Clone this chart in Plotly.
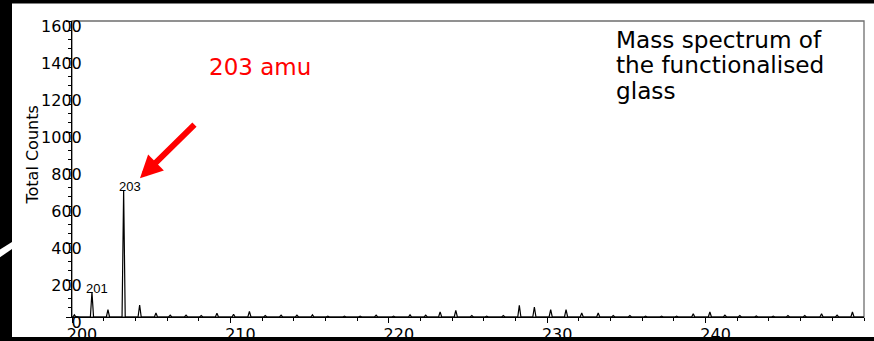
import plotly.graph_objects as go

# ---------------- data ----------------
peak_mz = [200.15, 201.26, 202.27, 203.26, 204.27, 205.30, 206.20, 207.20, 208.16, 209.15,
           210.20, 211.20, 212.20, 213.20, 214.20, 215.18, 216.15, 217.20, 218.19, 219.20,
           220.30, 221.34, 222.33, 223.24, 224.23, 225.24, 226.18, 227.23, 228.24, 229.19,
           230.22, 231.19, 232.18, 233.22, 234.17, 235.22, 236.21, 237.22, 238.17, 239.22,
           240.27, 241.22, 242.16, 243.20, 244.27, 245.20, 246.26, 247.32, 248.30, 249.27]
peak_counts = [12, 135, 40, 685, 65, 22, 10, 10, 8, 20,
               15, 30, 8, 10, 10, 12, 5, 5, 5, 10,
               5, 12, 10, 28, 36, 8, 5, 8, 63, 54,
               40, 40, 22, 22, 8, 8, 5, 5, 5, 18,
               27, 10, 8, 6, 5, 8, 8, 18, 10, 27]

label_mz = [201.26, 203.26]
label_counts = [135, 685]
label_text = ["201", "203"]

x_ticks = [200, 210, 220, 230, 240]
x_tick_labels = ["200", "210", "220", "230", "240"]
y_ticks = [0, 200, 400, 600, 800, 1000, 1200, 1400, 1600]
y_tick_labels = ["0", "200", "400", "600", "800", "1000", "1200", "1400", "1600"]

arrow_mz, arrow_counts = 204.29, 750
annotation_text = "203 amu"
title_lines = ["Mass spectrum of", "the functionalised", "glass"]
y_title = "Total Counts"

# ---------------- figure geometry ----------------
W, H = 874, 341
ML, MR, MT, MB = 72, 10, 21, 24
PW, PH = W - ML - MR, H - MT - MB


def px_x(x):
    return (x - ML) / PW


def px_y(y):
    return 1 - (y - MT) / PH


HALF_WIDTH = 0.1
xs, ys = [200.0], [0.0]
for c, h in zip(peak_mz, peak_counts):
    xs += [c - HALF_WIDTH, c, c + HALF_WIDTH]
    ys += [0, h, 0]
xs.append(250.0)
ys.append(0.0)

fig = go.Figure()
fig.add_trace(go.Scatter(x=xs, y=ys, mode="lines",
                         line=dict(color="black", width=1.2),
                         hoverinfo="skip", cliponaxis=False))

BIG = dict(family="DejaVu Sans", color="black")

fig.update_layout(
    width=W, height=H,
    margin=dict(l=ML, r=MR, t=MT, b=MB, pad=0),
    paper_bgcolor="white", plot_bgcolor="white",
    showlegend=False,
)
fig.update_xaxes(
    range=[200, 250], tickmode="array", tickvals=x_ticks, ticktext=x_tick_labels,
    ticks="outside", ticklen=5, tickwidth=1, tickcolor="black",
    showline=True, linecolor="black", linewidth=1,
    showgrid=False, zeroline=False, automargin=False,
    tickfont=dict(size=16, **BIG),
    ticklabelshift=10, ticklabelstandoff=-2,
    minor=dict(dtick=2, tick0=0, ticks="outside", ticklen=3, tickcolor="black", showgrid=False),
)
fig.update_yaxes(
    range=[0, 1600], tickmode="array", tickvals=y_ticks, ticktext=y_tick_labels,
    ticks="outside", ticklen=5, tickwidth=1, tickcolor="black",
    showline=True, linecolor="black", linewidth=1,
    showgrid=False, zeroline=False, automargin=False,
    tickfont=dict(size=16, **BIG),
    ticklabelshift=5, ticklabelstandoff=-19,
    minor=dict(dtick=50, tick0=0, ticks="outside", ticklen=3, tickcolor="black", showgrid=False),
)

shapes = [
    # plot frame (grey top/right border)
    dict(type="rect", xref="paper", yref="paper", x0=0, y0=0, x1=1, y1=1,
         line=dict(color="#6e6e6e", width=1.3), layer="below"),
    # black slide bands
    dict(type="rect", xref="paper", yref="paper", x0=px_x(-5), x1=px_x(12), y0=px_y(350), y1=px_y(-10),
         fillcolor="black", line=dict(width=0), layer="above"),
    dict(type="rect", xref="paper", yref="paper", x0=px_x(-5), x1=px_x(880), y0=px_y(3.5), y1=px_y(-10),
         fillcolor="black", line=dict(width=0), layer="above"),
    dict(type="rect", xref="paper", yref="paper", x0=px_x(-5), x1=px_x(880), y0=px_y(350), y1=px_y(337),
         fillcolor="black", line=dict(width=0), layer="above"),
    # white diagonal stroke in the left band
    dict(type="path", xref="paper", yref="paper",
         path=f"M {px_x(-1)},{px_y(250)} L {px_x(12)},{px_y(242)} L {px_x(12)},{px_y(249)} L {px_x(-1)},{px_y(258)} Z",
         fillcolor="white", line=dict(width=0), layer="above"),
]
fig.update_layout(shapes=shapes)

annotations = []
# peak labels
for mz, cnt, txt, xs_ in zip(label_mz, label_counts, label_text, [5, 6]):
    annotations.append(dict(x=mz, y=cnt, xref="x", yref="y", text=txt, showarrow=False,
                            xanchor="center", yanchor="middle", xshift=xs_, yshift=4,
                            font=dict(family="Liberation Sans", size=13, color="black")))
# red arrow
annotations.append(dict(x=arrow_mz, y=arrow_counts, xref="x", yref="y", text="", showarrow=True,
                        ax=56, ay=-55, arrowcolor="#ff0000", arrowwidth=6, arrowhead=2,
                        arrowsize=0.75, standoff=0))
# "203 amu"
annotations.append(dict(x=px_x(206.5), y=px_y(67), xref="paper", yref="paper", text=annotation_text,
                        showarrow=False, xanchor="left", yanchor="middle",
                        font=dict(family="DejaVu Sans", size=23, color="#ff0000")))
# description text
for line, yc in zip(title_lines, [39, 64.5, 90]):
    annotations.append(dict(x=px_x(614), y=px_y(yc), xref="paper", yref="paper", text=line,
                            showarrow=False, xanchor="left", yanchor="middle",
                            font=dict(size=23.2, **BIG)))
# y-axis title
annotations.append(dict(x=px_x(32), y=px_y(155.5), xref="paper", yref="paper", text=y_title,
                        showarrow=False, textangle=-90, xanchor="center", yanchor="middle",
                        font=dict(size=16, **BIG)))
fig.update_layout(annotations=annotations)

fig.write_html(
    "out.html",
    config={"displayModeBar": False},
    post_script="document.body.style.margin='0';document.body.style.background='white';"
                "document.documentElement.style.background='white';"
                "document.body.style.overflow='hidden';"
                "document.documentElement.style.overflow='hidden';",
)
